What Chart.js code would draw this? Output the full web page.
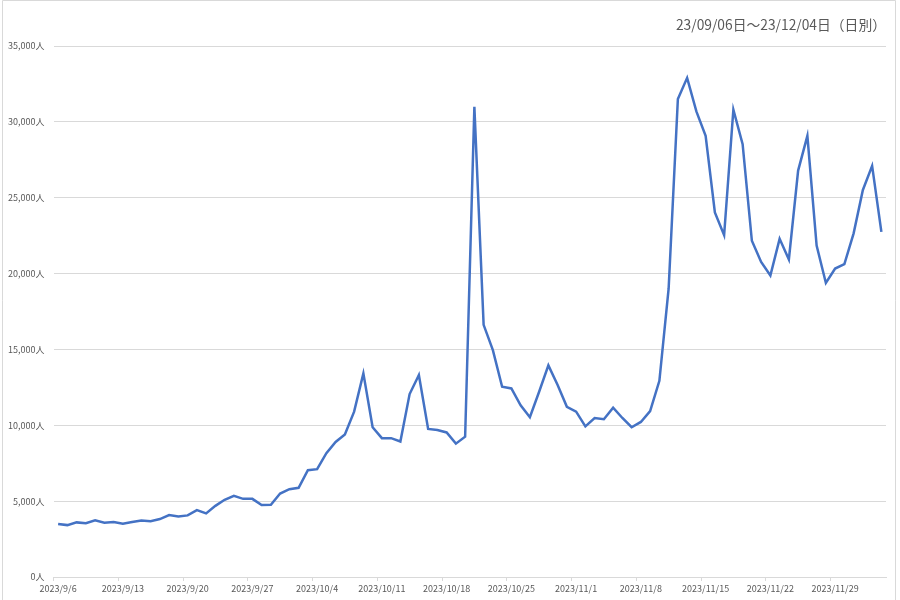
<!DOCTYPE html>
<html>
<head>
<meta charset="utf-8">
<script src="https://cdn.jsdelivr.net/npm/chart.js@4"></script>
<style>
  html, body { margin: 0; padding: 0; background: #ffffff; }
  #wrap { position: relative; width: 900px; height: 600px; }
</style>
</head>
<body>
<div id="wrap"><canvas id="c" width="900" height="600"></canvas></div>
<script>
const titleText = '23/09/06日～23/12/04日（日別）';

const dates = [
  '2023/9/6','2023/9/7','2023/9/8','2023/9/9','2023/9/10','2023/9/11','2023/9/12',
  '2023/9/13','2023/9/14','2023/9/15','2023/9/16','2023/9/17','2023/9/18','2023/9/19',
  '2023/9/20','2023/9/21','2023/9/22','2023/9/23','2023/9/24','2023/9/25','2023/9/26',
  '2023/9/27','2023/9/28','2023/9/29','2023/9/30','2023/10/1','2023/10/2','2023/10/3',
  '2023/10/4','2023/10/5','2023/10/6','2023/10/7','2023/10/8','2023/10/9','2023/10/10',
  '2023/10/11','2023/10/12','2023/10/13','2023/10/14','2023/10/15','2023/10/16','2023/10/17',
  '2023/10/18','2023/10/19','2023/10/20','2023/10/21','2023/10/22','2023/10/23','2023/10/24',
  '2023/10/25','2023/10/26','2023/10/27','2023/10/28','2023/10/29','2023/10/30','2023/10/31',
  '2023/11/1','2023/11/2','2023/11/3','2023/11/4','2023/11/5','2023/11/6','2023/11/7',
  '2023/11/8','2023/11/9','2023/11/10','2023/11/11','2023/11/12','2023/11/13','2023/11/14',
  '2023/11/15','2023/11/16','2023/11/17','2023/11/18','2023/11/19','2023/11/20','2023/11/21',
  '2023/11/22','2023/11/23','2023/11/24','2023/11/25','2023/11/26','2023/11/27','2023/11/28',
  '2023/11/29','2023/11/30','2023/12/1','2023/12/2','2023/12/3','2023/12/4'
];

const visitors = [
  3500, 3420, 3600, 3550, 3730, 3580, 3620,
  3510, 3620, 3730, 3680, 3820, 4080, 3990,
  4060, 4410, 4190, 4690, 5090, 5350, 5150,
  5150, 4740, 4760, 5500, 5790, 5880, 7040,
  7110, 8160, 8900, 9390, 10900, 13420, 9870,
  9150, 9150, 8930, 12060, 13310, 9760, 9690,
  9530, 8790, 9250, 30990, 16620, 14950, 12540,
  12430, 11320, 10530, 12210, 13950, 12650, 11220,
  10900, 9930, 10480, 10400, 11160, 10480, 9870,
  10220, 10940, 12930, 19000, 31510, 32900, 30690,
  29080, 24030, 22530, 30800, 28530, 22160, 20770,
  19870, 22290, 20930, 26790, 29080, 21850, 19380,
  20330, 20620, 22650, 25510, 27100, 22750
];

const yTicks = [0, 5000, 10000, 15000, 20000, 25000, 30000, 35000];
const labelEvery = 7;

const textColor = '#595959';
const gridColor = '#d9d9d9';
const fontFamily = '"Noto Sans CJK JP", "Noto Sans", sans-serif';

function fmt(v) {
  return String(v).replace(/\B(?=(\d{3})+(?!\d))/g, ',') + '人';
}

const framePlugin = {
  id: 'frame',
  beforeDraw(chart) {
    const ctx = chart.ctx;
    ctx.save();
    ctx.fillStyle = '#ffffff';
    ctx.fillRect(0, 0, chart.width, chart.height);
    ctx.strokeStyle = gridColor;
    ctx.lineWidth = 1;
    ctx.beginPath();
    ctx.moveTo(2.5, 600);
    ctx.lineTo(2.5, 0.5);
    ctx.lineTo(895.5, 0.5);
    ctx.lineTo(895.5, 600);
    ctx.stroke();
    ctx.restore();
  },
  afterDraw(chart) {
    const ctx = chart.ctx;
    ctx.save();
    ctx.font = '13.8px ' + fontFamily;
    ctx.fillStyle = textColor;
    ctx.textAlign = 'right';
    ctx.textBaseline = 'middle';
    ctx.fillText(titleText, chart.chartArea.right, 25);
    ctx.restore();
  }
};

new Chart(document.getElementById('c'), {
  type: 'line',
  data: {
    labels: dates,
    datasets: [{
      data: visitors,
      borderColor: '#4472C4',
      backgroundColor: '#4472C4',
      borderWidth: 2.5,
      pointRadius: 0,
      tension: 0,
      fill: false
    }]
  },
  options: {
    responsive: false,
    animation: false,
    layout: { padding: { left: 0, right: 14, top: 46, bottom: 0 } },
    plugins: {
      legend: { display: false },
      tooltip: { enabled: false },
      title: { display: false }
    },
    scales: {
      x: {
        type: 'category',
        offset: true,
        border: { display: true, color: gridColor, width: 1 },
        grid: {
          offset: true,
          drawOnChartArea: false,
          drawTicks: true,
          tickLength: 4,
          color: (ctx) => (ctx.index % labelEvery === 0 ? gridColor : 'rgba(0,0,0,0)')
        },
        ticks: {
          autoSkip: false,
          maxRotation: 0,
          minRotation: 0,
          padding: 2,
          color: textColor,
          font: { family: fontFamily, size: 9 },
          callback: (v, i) => (i % labelEvery === 0 ? dates[i] : '')
        },
        afterFit: (scale) => { scale.height = 23; }
      },
      y: {
        min: 0,
        max: 35000,
        border: { display: false },
        grid: { color: gridColor, lineWidth: 1, drawTicks: false },
        afterBuildTicks: (scale) => { scale.ticks = yTicks.map(v => ({ value: v })); },
        ticks: {
          padding: 9,
          color: textColor,
          font: { family: fontFamily, size: 9 },
          callback: (v) => fmt(v)
        },
        afterFit: (scale) => { scale.width = 53.5; }
      }
    }
  },
  plugins: [framePlugin]
});
</script>
</body>
</html>
